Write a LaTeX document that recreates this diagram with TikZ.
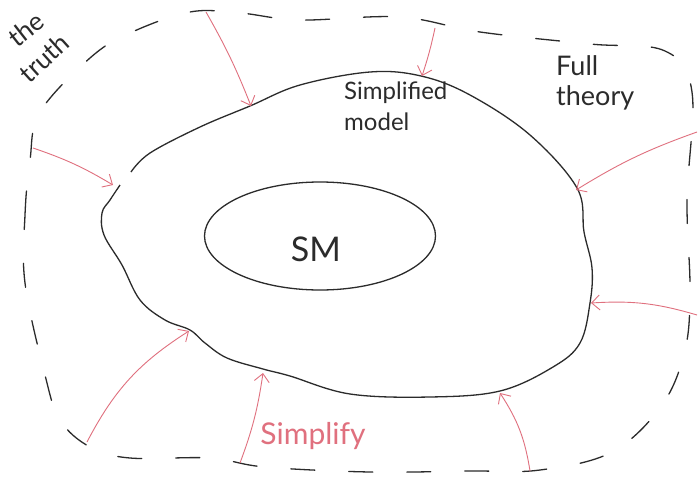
\documentclass[tikz,border=0pt]{standalone}
\usepackage{fontspec}
\setmainfont{Lato}
\usetikzlibrary{arrows.meta,shapes.geometric}
\definecolor{pen}{HTML}{2B2B2B}
\definecolor{redpen}{HTML}{E0707E}
\begin{document}
\begin{tikzpicture}[x=1pt,y=-1pt,
  ink/.style={draw=pen, line width=1.3pt},
  outer/.style={draw=pen, line width=1.3pt, dash pattern=on 24pt off 34pt, line cap=round},
  arr/.style={draw=redpen, line width=0.9pt, -{Straight Barb[length=8pt,width=15pt]}},
  lbl/.style={text=pen, align=left, inner sep=0pt}]
\useasboundingbox (0,0) rectangle (698,479);
\fill[white] (0,0) rectangle (698,479);

% outer dashed boundary (the truth)
\draw[outer] plot[smooth cycle, tension=0.6] coordinates {
 (25,283) (25,215) (30,160) (40,112) (90,58) (130,33) (190,12) (240,13)
 (300,20) (400,17) (480,32) (590,44) (665,51) (692,92) (687,200) (690,290)
 (685,350) (662,405) (612,452) (540,470) (470,471) (370,472) (265,467)
 (210,458) (130,458) (90,447) (60,420) (45,375)};

% simplified model blob
\draw[ink] plot[smooth, tension=0.6] coordinates {
 (131,172) (150,153) (200,127) (250,106) (300,85) (370,72) (421,76) (470,95)
 (530,135) (577,188) (584,232) (592,268) (590,303) (580,343) (553,367)
 (500,391) (430,397) (350,394) (290,376) (263,369) (227,358) (205,343)
 (190,330) (165,320) (140,300) (122,265) (104,235) (102,213) (110,200) (120,185)};

% SM ellipse
\node[draw=pen, line width=1.3pt, ellipse, minimum width=231pt, minimum height=108pt, inner sep=0pt] (sm) at (320,236) {};
\node[lbl, font=\fontsize{34}{38}\selectfont] (smtext) at (316,249) {SM};

% labels
\node[lbl, font=\fontsize{24}{31}\selectfont, anchor=north west] (simpl) at (344,82) {Simplified\\model};
\node[lbl, font=\fontsize{27}{30}\selectfont, anchor=north west] (full) at (556,55) {Full\\theory};
\node[lbl, font=\fontsize{26}{30}\selectfont, rotate=38] (the) at (26,29) {the};
\node[lbl, font=\fontsize{26}{30}\selectfont, rotate=42] (truth) at (44,58) {truth};
\node[text=redpen, inner sep=0pt, font=\fontsize{30}{34}\selectfont] (simplify) at (313,436) {Simplify};

% arrow endpoints
\coordinate (s1) at (206,12);  \coordinate (e1) at (251,106);
\coordinate (s2) at (435,28);  \coordinate (e2) at (422,76);
\coordinate (s3) at (697,132); \coordinate (e3) at (576,190);
\coordinate (s4) at (697,315); \coordinate (e4) at (591,303);
\coordinate (s5) at (530,471); \coordinate (e5) at (500,393);
\coordinate (s6) at (240,463); \coordinate (e6) at (263,373);
\coordinate (s7) at (87,442);  \coordinate (e7) at (189,331);
\coordinate (s8) at (33,148);  \coordinate (e8) at (113,185);

\draw[arr] (s1) to[bend left=4] (e1);
\draw[arr] (s2) to[bend left=3] (e2);
\draw[arr] (s3) to[bend right=6] (e3);
\draw[arr] (s4) to[bend right=10] (e4);
\draw[arr] (s5) to[bend right=12] (e5);
\draw[arr] (s6) to[bend right=6] (e6);
\draw[arr] (s7) to[bend left=15] (e7);
\draw[arr] (s8) to[bend left=6] (e8);
\end{tikzpicture}
\end{document}
